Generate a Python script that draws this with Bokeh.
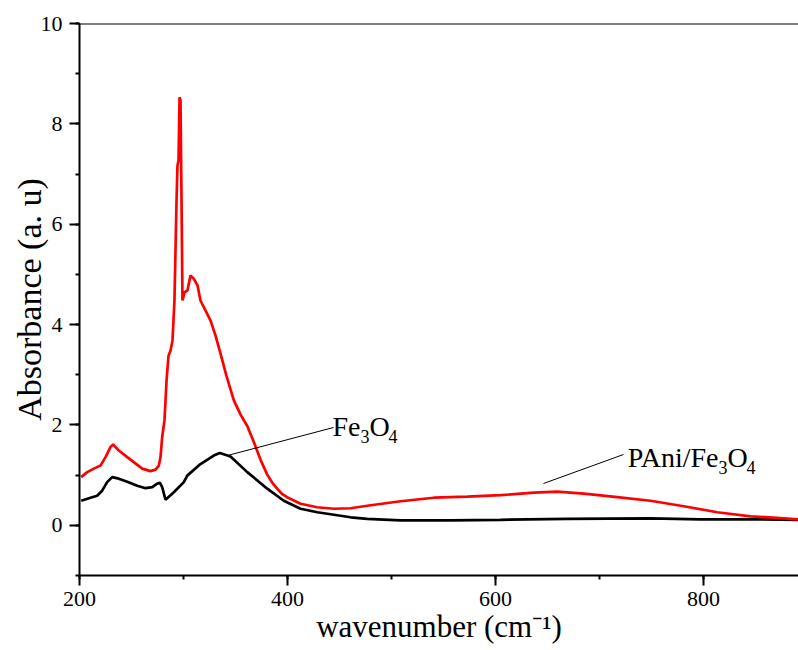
import math
from bokeh.plotting import figure
from bokeh.models import Range1d, SingleIntervalTicker, Span, Label, ColumnDataSource
from bokeh.embed import file_html
from bokeh.resources import INLINE

# ---- data ----
fe3o4_x = [201.6, 210.6, 217.0, 221.8, 226.6, 231.4, 237.8, 245.9, 255.5, 263.5, 269.9, 274.7,
           277.2, 279.5, 282.7, 290.7, 300.3, 303.6, 316.3, 329.1, 334.9, 345.2, 361.3, 380.5,
           396.4, 412.5, 428.6, 444.6, 460.6, 476.6, 508.7, 556.0, 604.8, 668.9, 749.0, 797.1,
           845.0, 891.0]
fe3o4_y = [0.49, 0.55, 0.59, 0.69, 0.86, 0.96, 0.93, 0.87, 0.79, 0.74, 0.76, 0.83,
           0.85, 0.76, 0.51, 0.66, 0.86, 0.99, 1.22, 1.39, 1.44, 1.37, 1.06, 0.73,
           0.49, 0.33, 0.26, 0.21, 0.16, 0.13, 0.10, 0.10, 0.11, 0.13, 0.14, 0.12,
           0.12, 0.11]

pani_x = [201.6, 207.4, 213.8, 220.2, 225.0, 229.8, 232.4, 237.8, 245.9, 252.2, 260.3, 268.3,
          273.1, 276.3, 277.9, 279.5, 281.7, 283.7, 285.6, 287.5, 289.4, 291.3, 293.3, 294.2,
          295.2, 296.2, 297.1, 298.1, 299.0, 301.0, 303.8, 306.7, 309.6, 313.5, 316.3, 321.2,
          326.0, 330.8, 335.6, 341.3, 348.4, 355.0, 361.3, 367.6, 374.0, 380.5, 386.0, 390.0,
          395.0, 399.6, 412.5, 428.6, 444.6, 460.6, 476.6, 508.7, 540.7, 572.8, 604.8, 636.8,
          659.3, 684.9, 717.0, 749.0, 781.0, 813.2, 845.2, 877.2, 891.0]
pani_y = [0.96, 1.06, 1.13, 1.19, 1.36, 1.56, 1.61, 1.49, 1.36, 1.26, 1.13, 1.08,
          1.11, 1.19, 1.36, 1.76, 2.09, 2.89, 3.38, 3.48, 3.68, 4.48, 6.47, 7.17,
          7.27, 8.53, 8.47, 6.47, 4.48, 4.64, 4.68, 4.98, 4.92, 4.78, 4.48, 4.28,
          4.08, 3.78, 3.42, 2.98, 2.49, 2.20, 1.98, 1.66, 1.31, 1.01, 0.83, 0.73,
          0.62, 0.56, 0.43, 0.36, 0.33, 0.34, 0.39, 0.48, 0.55, 0.57, 0.60, 0.65,
          0.67, 0.63, 0.56, 0.49, 0.38, 0.26, 0.18, 0.14, 0.12]

# ---- figure ----
X0, X1 = 200, 891.3
Y0, Y1 = -1, 10
W, H = 798, 650
ML, MT, MB = 79, 23, 75

p = figure(width=W, height=H, output_backend="svg", toolbar_location=None,
           x_range=Range1d(X0, X1), y_range=Range1d(Y0, Y1),
           min_border_left=ML, min_border_right=0, min_border_top=MT, min_border_bottom=MB)
p.outline_line_color = None
p.grid.visible = False
p.background_fill_color = "white"
p.border_fill_color = "white"

FRAME_W = W - ML
FRAME_H = H - MT - MB
FONT = "Liberation Serif"


def dx(px):
    # reference pixel -> data x
    return X0 + (px - ML) * (X1 - X0) / FRAME_W


def dy(py):
    return Y1 - (py - MT) * (Y1 - Y0) / FRAME_H


p.xaxis.ticker = SingleIntervalTicker(interval=200, num_minor_ticks=2)
p.yaxis.ticker = SingleIntervalTicker(interval=2, num_minor_ticks=2)
for ax in (p.xaxis, p.yaxis):
    ax.axis_line_width = 2
    ax.axis_line_color = "black"
    ax.major_tick_line_width = 2
    ax.minor_tick_line_width = 2
    ax.major_tick_out = 10
    ax.major_tick_in = 0
    ax.minor_tick_out = 4
    ax.minor_tick_in = 0
    ax.major_label_text_font = FONT
    ax.major_label_text_font_size = "22px"
    ax.major_label_text_color = "black"
    ax.axis_label_text_font = FONT
    ax.axis_label_text_font_style = "normal"
    ax.axis_label_text_color = "black"
p.xaxis.major_label_standoff = 6
p.yaxis.major_label_standoff = 7

p.xaxis.axis_label = "wavenumber (cm\u207b\u00b9)"
p.xaxis.axis_label_text_font_size = "31px"
p.xaxis.axis_label_standoff = 0
p.yaxis.axis_label = "Absorbance (a. u)"
p.yaxis.axis_label_text_font_size = "34px"
p.yaxis.axis_label_standoff = -10

p.add_layout(Span(location=Y1, dimension="width", line_color="black", line_width=2))

p.line(fe3o4_x, fe3o4_y, line_color="black", line_width=2.7)
p.line(pani_x, pani_y, line_color="#ff0000", line_width=2.7)

# leader lines
lead = ColumnDataSource(dict(x0=[dx(227), dx(543)], y0=[dy(455), dy(483)],
                             x1=[dx(333), dx(623)], y1=[dy(427), dy(454)]))
p.segment("x0", "y0", "x1", "y1", source=lead, line_color="black", line_width=1)


def lab(text, px, py, size, align="left"):
    p.add_layout(Label(x=dx(px), y=dy(py), text=text, text_font=FONT, text_font_size=size,
                       text_color="black", text_align=align, text_baseline="alphabetic"))


# Fe3O4 annotation
lab("Fe", 360, 426, "28px", align="right")
lab("3", 360, 436, "18px")
lab("O", 369, 426, "28px")
lab("4", 388, 436, "18px")

# PAni/Fe3O4 annotation
lab("PAni/Fe", 718, 457, "28px", align="right")
lab("3", 718, 467, "18px")
lab("O", 727, 457, "28px")
lab("4", 746, 467, "18px")

open("out.html", "w").write(file_html(p, INLINE))
